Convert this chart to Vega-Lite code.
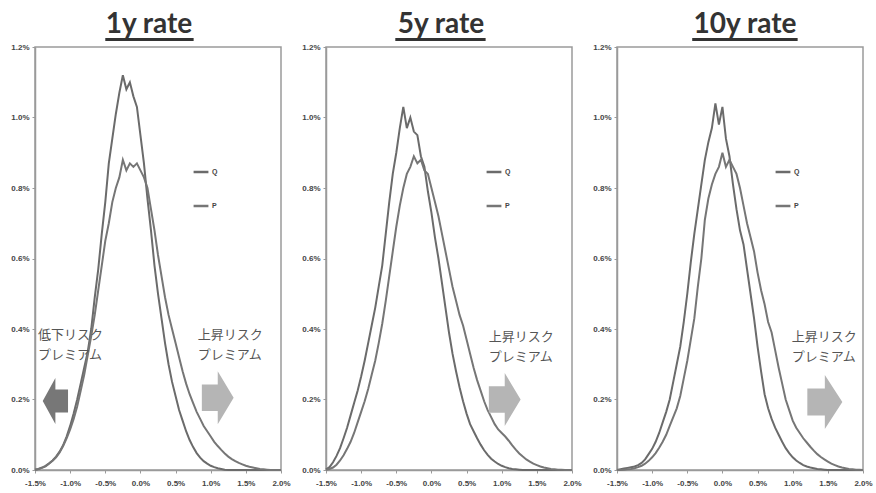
{
  "$schema": "https://vega.github.io/schema/vega-lite/v6.json",
  "background": "white",
  "padding": {"left": 10, "top": 10, "right": 0, "bottom": 0},
  "spacing": 10,
  "config": {
    "font": "Liberation Sans",
    "view": {"stroke": "#9a9a9a", "strokeWidth": 1.5},
    "axis": {"grid": false, "domainColor": "#9a9a9a", "domainWidth": 1.5, "tickColor": "#9a9a9a", "tickSize": 3, "labelFont": "Liberation Sans", "labelFontWeight": "bold", "labelFontSize": 8, "labelColor": "#444444", "labelPadding": 3, "labelOverlap": false, "labelBound": false, "labelFlush": false, "title": null},
    "title": {"font": "Lato", "fontSize": 28, "fontWeight": "bold", "color": "#333333", "anchor": "middle", "baseline": "alphabetic", "offset": -1},
    "legend": {"orient": "none", "symbolType": "stroke", "symbolSize": 220, "symbolStrokeWidth": 2.5, "labelFontSize": 7, "labelFontWeight": "bold", "labelColor": "#444444", "rowPadding": 20, "padding": 0, "labelOffset": 2, "title": null}
  },
  "resolve": {"scale": {"color": "independent"}},
  "datasets": {
    "a": [
      {"s":"Q","x":-1.5,"y":0.001},{"s":"Q","x":-1.45,"y":0.003},{"s":"Q","x":-1.4,"y":0.007},{"s":"Q","x":-1.35,"y":0.012},{"s":"Q","x":-1.3,"y":0.019},{"s":"Q","x":-1.25,"y":0.027},{"s":"Q","x":-1.2,"y":0.038},{"s":"Q","x":-1.15,"y":0.052},{"s":"Q","x":-1.1,"y":0.07},{"s":"Q","x":-1.05,"y":0.095},{"s":"Q","x":-1,"y":0.125},{"s":"Q","x":-0.95,"y":0.16},{"s":"Q","x":-0.9,"y":0.2},{"s":"Q","x":-0.85,"y":0.245},{"s":"Q","x":-0.8,"y":0.29},{"s":"Q","x":-0.75,"y":0.335},{"s":"Q","x":-0.7,"y":0.4},{"s":"Q","x":-0.65,"y":0.49},{"s":"Q","x":-0.6,"y":0.57},{"s":"Q","x":-0.55,"y":0.67},{"s":"Q","x":-0.5,"y":0.76},{"s":"Q","x":-0.45,"y":0.87},{"s":"Q","x":-0.4,"y":0.94},{"s":"Q","x":-0.35,"y":1.01},{"s":"Q","x":-0.3,"y":1.07},{"s":"Q","x":-0.25,"y":1.12},{"s":"Q","x":-0.2,"y":1.08},{"s":"Q","x":-0.15,"y":1.1},{"s":"Q","x":-0.1,"y":1.06},{"s":"Q","x":-0.05,"y":1.03},{"s":"Q","x":0,"y":0.95},{"s":"Q","x":0.05,"y":0.87},{"s":"Q","x":0.1,"y":0.77},{"s":"Q","x":0.15,"y":0.68},{"s":"Q","x":0.2,"y":0.58},{"s":"Q","x":0.25,"y":0.5},{"s":"Q","x":0.3,"y":0.43},{"s":"Q","x":0.35,"y":0.36},{"s":"Q","x":0.4,"y":0.3},{"s":"Q","x":0.45,"y":0.25},{"s":"Q","x":0.5,"y":0.21},{"s":"Q","x":0.55,"y":0.17},{"s":"Q","x":0.6,"y":0.14},{"s":"Q","x":0.65,"y":0.11},{"s":"Q","x":0.7,"y":0.085},{"s":"Q","x":0.75,"y":0.065},{"s":"Q","x":0.8,"y":0.048},{"s":"Q","x":0.85,"y":0.035},{"s":"Q","x":0.9,"y":0.025},{"s":"Q","x":0.95,"y":0.018},{"s":"Q","x":1,"y":0.012},{"s":"Q","x":1.05,"y":0.008},{"s":"Q","x":1.1,"y":0.005},{"s":"Q","x":1.15,"y":0.003},{"s":"Q","x":1.2,"y":0.001},{"s":"Q","x":1.25,"y":0},{"s":"Q","x":2,"y":0},
      {"s":"P","x":-1.5,"y":0.001},{"s":"P","x":-1.45,"y":0.003},{"s":"P","x":-1.4,"y":0.006},{"s":"P","x":-1.35,"y":0.01},{"s":"P","x":-1.3,"y":0.018},{"s":"P","x":-1.25,"y":0.026},{"s":"P","x":-1.2,"y":0.036},{"s":"P","x":-1.15,"y":0.05},{"s":"P","x":-1.1,"y":0.068},{"s":"P","x":-1.05,"y":0.09},{"s":"P","x":-1,"y":0.115},{"s":"P","x":-0.95,"y":0.145},{"s":"P","x":-0.9,"y":0.18},{"s":"P","x":-0.85,"y":0.225},{"s":"P","x":-0.8,"y":0.27},{"s":"P","x":-0.75,"y":0.325},{"s":"P","x":-0.7,"y":0.38},{"s":"P","x":-0.65,"y":0.44},{"s":"P","x":-0.6,"y":0.51},{"s":"P","x":-0.55,"y":0.58},{"s":"P","x":-0.5,"y":0.65},{"s":"P","x":-0.45,"y":0.7},{"s":"P","x":-0.4,"y":0.76},{"s":"P","x":-0.35,"y":0.8},{"s":"P","x":-0.3,"y":0.83},{"s":"P","x":-0.25,"y":0.88},{"s":"P","x":-0.2,"y":0.85},{"s":"P","x":-0.15,"y":0.87},{"s":"P","x":-0.1,"y":0.86},{"s":"P","x":-0.05,"y":0.87},{"s":"P","x":0,"y":0.85},{"s":"P","x":0.05,"y":0.83},{"s":"P","x":0.1,"y":0.8},{"s":"P","x":0.15,"y":0.74},{"s":"P","x":0.2,"y":0.68},{"s":"P","x":0.25,"y":0.61},{"s":"P","x":0.3,"y":0.55},{"s":"P","x":0.35,"y":0.49},{"s":"P","x":0.4,"y":0.44},{"s":"P","x":0.45,"y":0.4},{"s":"P","x":0.5,"y":0.36},{"s":"P","x":0.55,"y":0.32},{"s":"P","x":0.6,"y":0.28},{"s":"P","x":0.65,"y":0.245},{"s":"P","x":0.7,"y":0.215},{"s":"P","x":0.75,"y":0.19},{"s":"P","x":0.8,"y":0.165},{"s":"P","x":0.85,"y":0.145},{"s":"P","x":0.9,"y":0.125},{"s":"P","x":0.95,"y":0.11},{"s":"P","x":1,"y":0.095},{"s":"P","x":1.05,"y":0.08},{"s":"P","x":1.1,"y":0.068},{"s":"P","x":1.15,"y":0.057},{"s":"P","x":1.2,"y":0.047},{"s":"P","x":1.25,"y":0.038},{"s":"P","x":1.3,"y":0.031},{"s":"P","x":1.35,"y":0.025},{"s":"P","x":1.4,"y":0.02},{"s":"P","x":1.45,"y":0.016},{"s":"P","x":1.5,"y":0.012},{"s":"P","x":1.55,"y":0.009},{"s":"P","x":1.6,"y":0.007},{"s":"P","x":1.65,"y":0.005},{"s":"P","x":1.7,"y":0.003},{"s":"P","x":1.75,"y":0.002},{"s":"P","x":1.8,"y":0.001},{"s":"P","x":1.85,"y":0},{"s":"P","x":2,"y":0}
    ],
    "b": [
      {"s":"Q","x":-1.5,"y":0.002},{"s":"Q","x":-1.45,"y":0.008},{"s":"Q","x":-1.4,"y":0.022},{"s":"Q","x":-1.35,"y":0.04},{"s":"Q","x":-1.3,"y":0.062},{"s":"Q","x":-1.25,"y":0.09},{"s":"Q","x":-1.2,"y":0.12},{"s":"Q","x":-1.15,"y":0.155},{"s":"Q","x":-1.1,"y":0.19},{"s":"Q","x":-1.05,"y":0.225},{"s":"Q","x":-1,"y":0.265},{"s":"Q","x":-0.95,"y":0.31},{"s":"Q","x":-0.9,"y":0.36},{"s":"Q","x":-0.85,"y":0.41},{"s":"Q","x":-0.8,"y":0.46},{"s":"Q","x":-0.75,"y":0.52},{"s":"Q","x":-0.7,"y":0.58},{"s":"Q","x":-0.65,"y":0.67},{"s":"Q","x":-0.6,"y":0.76},{"s":"Q","x":-0.55,"y":0.84},{"s":"Q","x":-0.5,"y":0.9},{"s":"Q","x":-0.45,"y":0.97},{"s":"Q","x":-0.4,"y":1.03},{"s":"Q","x":-0.35,"y":0.97},{"s":"Q","x":-0.3,"y":1.0},{"s":"Q","x":-0.25,"y":0.96},{"s":"Q","x":-0.2,"y":0.95},{"s":"Q","x":-0.15,"y":0.89},{"s":"Q","x":-0.1,"y":0.86},{"s":"Q","x":-0.05,"y":0.79},{"s":"Q","x":0,"y":0.73},{"s":"Q","x":0.05,"y":0.66},{"s":"Q","x":0.1,"y":0.6},{"s":"Q","x":0.15,"y":0.53},{"s":"Q","x":0.2,"y":0.46},{"s":"Q","x":0.25,"y":0.39},{"s":"Q","x":0.3,"y":0.33},{"s":"Q","x":0.35,"y":0.28},{"s":"Q","x":0.4,"y":0.235},{"s":"Q","x":0.45,"y":0.195},{"s":"Q","x":0.5,"y":0.16},{"s":"Q","x":0.55,"y":0.13},{"s":"Q","x":0.6,"y":0.11},{"s":"Q","x":0.65,"y":0.09},{"s":"Q","x":0.7,"y":0.072},{"s":"Q","x":0.75,"y":0.056},{"s":"Q","x":0.8,"y":0.043},{"s":"Q","x":0.85,"y":0.032},{"s":"Q","x":0.9,"y":0.024},{"s":"Q","x":0.95,"y":0.017},{"s":"Q","x":1,"y":0.012},{"s":"Q","x":1.05,"y":0.008},{"s":"Q","x":1.1,"y":0.005},{"s":"Q","x":1.15,"y":0.003},{"s":"Q","x":1.2,"y":0.002},{"s":"Q","x":1.25,"y":0.001},{"s":"Q","x":1.3,"y":0},{"s":"Q","x":2,"y":0},
      {"s":"P","x":-1.5,"y":0.001},{"s":"P","x":-1.45,"y":0.003},{"s":"P","x":-1.4,"y":0.007},{"s":"P","x":-1.35,"y":0.015},{"s":"P","x":-1.3,"y":0.027},{"s":"P","x":-1.25,"y":0.042},{"s":"P","x":-1.2,"y":0.06},{"s":"P","x":-1.15,"y":0.08},{"s":"P","x":-1.1,"y":0.105},{"s":"P","x":-1.05,"y":0.135},{"s":"P","x":-1,"y":0.165},{"s":"P","x":-0.95,"y":0.195},{"s":"P","x":-0.9,"y":0.23},{"s":"P","x":-0.85,"y":0.27},{"s":"P","x":-0.8,"y":0.31},{"s":"P","x":-0.75,"y":0.36},{"s":"P","x":-0.7,"y":0.415},{"s":"P","x":-0.65,"y":0.48},{"s":"P","x":-0.6,"y":0.55},{"s":"P","x":-0.55,"y":0.62},{"s":"P","x":-0.5,"y":0.69},{"s":"P","x":-0.45,"y":0.75},{"s":"P","x":-0.4,"y":0.8},{"s":"P","x":-0.35,"y":0.84},{"s":"P","x":-0.3,"y":0.86},{"s":"P","x":-0.25,"y":0.89},{"s":"P","x":-0.2,"y":0.87},{"s":"P","x":-0.15,"y":0.88},{"s":"P","x":-0.1,"y":0.85},{"s":"P","x":-0.05,"y":0.84},{"s":"P","x":0,"y":0.8},{"s":"P","x":0.05,"y":0.76},{"s":"P","x":0.1,"y":0.72},{"s":"P","x":0.15,"y":0.67},{"s":"P","x":0.2,"y":0.62},{"s":"P","x":0.25,"y":0.57},{"s":"P","x":0.3,"y":0.52},{"s":"P","x":0.35,"y":0.48},{"s":"P","x":0.4,"y":0.44},{"s":"P","x":0.45,"y":0.41},{"s":"P","x":0.5,"y":0.37},{"s":"P","x":0.55,"y":0.33},{"s":"P","x":0.6,"y":0.29},{"s":"P","x":0.65,"y":0.255},{"s":"P","x":0.7,"y":0.225},{"s":"P","x":0.75,"y":0.195},{"s":"P","x":0.8,"y":0.17},{"s":"P","x":0.85,"y":0.15},{"s":"P","x":0.9,"y":0.13},{"s":"P","x":0.95,"y":0.115},{"s":"P","x":1,"y":0.105},{"s":"P","x":1.05,"y":0.095},{"s":"P","x":1.1,"y":0.083},{"s":"P","x":1.15,"y":0.07},{"s":"P","x":1.2,"y":0.058},{"s":"P","x":1.25,"y":0.047},{"s":"P","x":1.3,"y":0.038},{"s":"P","x":1.35,"y":0.03},{"s":"P","x":1.4,"y":0.024},{"s":"P","x":1.45,"y":0.018},{"s":"P","x":1.5,"y":0.014},{"s":"P","x":1.55,"y":0.01},{"s":"P","x":1.6,"y":0.007},{"s":"P","x":1.65,"y":0.005},{"s":"P","x":1.7,"y":0.003},{"s":"P","x":1.75,"y":0.002},{"s":"P","x":1.8,"y":0.001},{"s":"P","x":1.85,"y":0.001},{"s":"P","x":1.9,"y":0},{"s":"P","x":2,"y":0}
    ],
    "c": [
      {"s":"Q","x":-1.5,"y":0},{"s":"Q","x":-1.45,"y":0.002},{"s":"Q","x":-1.4,"y":0.004},{"s":"Q","x":-1.35,"y":0.006},{"s":"Q","x":-1.3,"y":0.008},{"s":"Q","x":-1.25,"y":0.01},{"s":"Q","x":-1.2,"y":0.014},{"s":"Q","x":-1.15,"y":0.02},{"s":"Q","x":-1.1,"y":0.03},{"s":"Q","x":-1.05,"y":0.045},{"s":"Q","x":-1,"y":0.06},{"s":"Q","x":-0.95,"y":0.08},{"s":"Q","x":-0.9,"y":0.105},{"s":"Q","x":-0.85,"y":0.135},{"s":"Q","x":-0.8,"y":0.165},{"s":"Q","x":-0.75,"y":0.2},{"s":"Q","x":-0.7,"y":0.25},{"s":"Q","x":-0.65,"y":0.3},{"s":"Q","x":-0.6,"y":0.35},{"s":"Q","x":-0.55,"y":0.42},{"s":"Q","x":-0.5,"y":0.5},{"s":"Q","x":-0.45,"y":0.59},{"s":"Q","x":-0.4,"y":0.67},{"s":"Q","x":-0.35,"y":0.74},{"s":"Q","x":-0.3,"y":0.81},{"s":"Q","x":-0.25,"y":0.88},{"s":"Q","x":-0.2,"y":0.93},{"s":"Q","x":-0.15,"y":0.97},{"s":"Q","x":-0.1,"y":1.04},{"s":"Q","x":-0.05,"y":0.98},{"s":"Q","x":0,"y":1.03},{"s":"Q","x":0.05,"y":0.94},{"s":"Q","x":0.1,"y":0.89},{"s":"Q","x":0.15,"y":0.81},{"s":"Q","x":0.2,"y":0.74},{"s":"Q","x":0.25,"y":0.68},{"s":"Q","x":0.3,"y":0.64},{"s":"Q","x":0.35,"y":0.57},{"s":"Q","x":0.4,"y":0.5},{"s":"Q","x":0.45,"y":0.43},{"s":"Q","x":0.5,"y":0.35},{"s":"Q","x":0.55,"y":0.28},{"s":"Q","x":0.6,"y":0.215},{"s":"Q","x":0.65,"y":0.175},{"s":"Q","x":0.7,"y":0.145},{"s":"Q","x":0.75,"y":0.12},{"s":"Q","x":0.8,"y":0.1},{"s":"Q","x":0.85,"y":0.08},{"s":"Q","x":0.9,"y":0.062},{"s":"Q","x":0.95,"y":0.048},{"s":"Q","x":1,"y":0.036},{"s":"Q","x":1.05,"y":0.027},{"s":"Q","x":1.1,"y":0.02},{"s":"Q","x":1.15,"y":0.014},{"s":"Q","x":1.2,"y":0.01},{"s":"Q","x":1.25,"y":0.007},{"s":"Q","x":1.3,"y":0.005},{"s":"Q","x":1.35,"y":0.003},{"s":"Q","x":1.4,"y":0.002},{"s":"Q","x":1.45,"y":0.001},{"s":"Q","x":1.5,"y":0},{"s":"Q","x":2,"y":0},
      {"s":"P","x":-1.5,"y":0},{"s":"P","x":-1.45,"y":0},{"s":"P","x":-1.4,"y":0.001},{"s":"P","x":-1.35,"y":0.002},{"s":"P","x":-1.3,"y":0.003},{"s":"P","x":-1.25,"y":0.005},{"s":"P","x":-1.2,"y":0.008},{"s":"P","x":-1.15,"y":0.012},{"s":"P","x":-1.1,"y":0.018},{"s":"P","x":-1.05,"y":0.026},{"s":"P","x":-1,"y":0.036},{"s":"P","x":-0.95,"y":0.048},{"s":"P","x":-0.9,"y":0.063},{"s":"P","x":-0.85,"y":0.08},{"s":"P","x":-0.8,"y":0.1},{"s":"P","x":-0.75,"y":0.125},{"s":"P","x":-0.7,"y":0.15},{"s":"P","x":-0.65,"y":0.175},{"s":"P","x":-0.6,"y":0.21},{"s":"P","x":-0.55,"y":0.26},{"s":"P","x":-0.5,"y":0.31},{"s":"P","x":-0.45,"y":0.37},{"s":"P","x":-0.4,"y":0.43},{"s":"P","x":-0.35,"y":0.52},{"s":"P","x":-0.3,"y":0.6},{"s":"P","x":-0.25,"y":0.71},{"s":"P","x":-0.2,"y":0.77},{"s":"P","x":-0.15,"y":0.81},{"s":"P","x":-0.1,"y":0.84},{"s":"P","x":-0.05,"y":0.86},{"s":"P","x":0,"y":0.9},{"s":"P","x":0.05,"y":0.86},{"s":"P","x":0.1,"y":0.88},{"s":"P","x":0.15,"y":0.86},{"s":"P","x":0.2,"y":0.84},{"s":"P","x":0.25,"y":0.8},{"s":"P","x":0.3,"y":0.75},{"s":"P","x":0.35,"y":0.7},{"s":"P","x":0.4,"y":0.66},{"s":"P","x":0.45,"y":0.62},{"s":"P","x":0.5,"y":0.56},{"s":"P","x":0.55,"y":0.51},{"s":"P","x":0.6,"y":0.47},{"s":"P","x":0.65,"y":0.42},{"s":"P","x":0.7,"y":0.39},{"s":"P","x":0.75,"y":0.34},{"s":"P","x":0.8,"y":0.29},{"s":"P","x":0.85,"y":0.245},{"s":"P","x":0.9,"y":0.2},{"s":"P","x":0.95,"y":0.17},{"s":"P","x":1,"y":0.14},{"s":"P","x":1.05,"y":0.12},{"s":"P","x":1.1,"y":0.105},{"s":"P","x":1.15,"y":0.09},{"s":"P","x":1.2,"y":0.078},{"s":"P","x":1.25,"y":0.066},{"s":"P","x":1.3,"y":0.055},{"s":"P","x":1.35,"y":0.045},{"s":"P","x":1.4,"y":0.037},{"s":"P","x":1.45,"y":0.03},{"s":"P","x":1.5,"y":0.024},{"s":"P","x":1.55,"y":0.018},{"s":"P","x":1.6,"y":0.014},{"s":"P","x":1.65,"y":0.01},{"s":"P","x":1.7,"y":0.007},{"s":"P","x":1.75,"y":0.005},{"s":"P","x":1.8,"y":0.003},{"s":"P","x":1.85,"y":0.002},{"s":"P","x":1.9,"y":0.001},{"s":"P","x":1.95,"y":0.001},{"s":"P","x":2,"y":0}
    ]
  },
  "hconcat": [
    {
      "width": 246, "height": 423,
      "title": {"text": "1y rate", "dx": -9},
      "layer": [
        {
          "data": {"name": "a"},
          "mark": {"type": "line", "strokeWidth": 2},
          "encoding": {
            "x": {"field": "x", "type": "quantitative", "scale": {"domain": [-1.5, 2], "nice": false}, "axis": {"values": [-1.5,-1,-0.5,0,0.5,1,1.5,2], "tickCount": 20, "labelOverlap": false, "labelPadding": 6, "labelExpr": "(datum.value < 0 ? '-' : '') + format(abs(datum.value), '.1f') + '%'"}},
            "y": {"field": "y", "type": "quantitative", "scale": {"domain": [0, 1.2], "nice": false}, "axis": {"values": [0,0.2,0.4,0.6,0.8,1,1.2], "tickCount": 20, "labelOverlap": false, "labelExpr": "format(datum.value, '.1f') + '%'"}},
            "color": {"field": "s", "type": "nominal", "scale": {"domain": ["Q","P"], "range": ["#6b6b6b","#767676"]}, "legend": {"legendX": 157, "legendY": 116}}
          }
        },
        {
          "data": {"values": [{}]},
          "mark": {"type": "rule", "strokeWidth": 3, "color": "#333333"},
          "encoding": {"x": {"datum": -0.5}, "x2": {"datum": 0.757}, "y": {"datum": 1.2216}}
        },
        {
          "data": {"values": [{}]},
          "mark": {"type": "text", "text": "低下リスク\nプレミアム", "lineBreak": "\n", "lineHeight": 20, "font": "Noto Sans CJK JP", "fontSize": 13, "color": "#555555", "align": "left", "baseline": "top"},
          "encoding": {"x": {"datum": -1.457}, "y": {"datum": 0.4}}
        },
        {
          "data": {"values": [{}]},
          "mark": {"type": "text", "text": "上昇リスク\nプレミアム", "lineBreak": "\n", "lineHeight": 20, "font": "Noto Sans CJK JP", "fontSize": 13, "color": "#555555", "align": "left", "baseline": "top"},
          "encoding": {"x": {"datum": 0.814}, "y": {"datum": 0.4}}
        },
        {
          "data": {"values": [{}]},
          "mark": {"type": "point", "filled": true, "opacity": 1, "color": "#777777", "size": 2116, "shape": "M0.55,-0.5L0,-0.5L0,-1L-0.55,0L0,1L0,0.5L0.55,0.5Z"},
          "encoding": {"x": {"datum": -1.21}, "y": {"datum": 0.196}}
        },
        {
          "data": {"values": [{}]},
          "mark": {"type": "point", "filled": true, "opacity": 1, "color": "#b5b5b5", "size": 2809, "shape": "M-0.6,-0.5L0,-0.5L0,-1L0.6,0L0,1L0,0.5L-0.6,0.5Z"},
          "encoding": {"x": {"datum": 1.1}, "y": {"datum": 0.205}}
        }
      ]
    },
    {
      "width": 246, "height": 423,
      "title": {"text": "5y rate", "dx": -8},
      "layer": [
        {
          "data": {"name": "b"},
          "mark": {"type": "line", "strokeWidth": 2},
          "encoding": {
            "x": {"field": "x", "type": "quantitative", "scale": {"domain": [-1.5, 2], "nice": false}, "axis": {"values": [-1.5,-1,-0.5,0,0.5,1,1.5,2], "tickCount": 20, "labelOverlap": false, "labelPadding": 6, "labelExpr": "(datum.value < 0 ? '-' : '') + format(abs(datum.value), '.1f') + '%'"}},
            "y": {"field": "y", "type": "quantitative", "scale": {"domain": [0, 1.2], "nice": false}, "axis": {"values": [0,0.2,0.4,0.6,0.8,1,1.2], "tickCount": 20, "labelOverlap": false, "labelExpr": "format(datum.value, '.1f') + '%'"}},
            "color": {"field": "s", "type": "nominal", "scale": {"domain": ["Q","P"], "range": ["#6b6b6b","#767676"]}, "legend": {"legendX": 159, "legendY": 116}}
          }
        },
        {
          "data": {"values": [{}]},
          "mark": {"type": "rule", "strokeWidth": 3, "color": "#333333"},
          "encoding": {"x": {"datum": -0.514}, "x2": {"datum": 0.771}, "y": {"datum": 1.2216}}
        },
        {
          "data": {"values": [{}]},
          "mark": {"type": "text", "text": "上昇リスク\nプレミアム", "lineBreak": "\n", "lineHeight": 20, "font": "Noto Sans CJK JP", "fontSize": 13, "color": "#555555", "align": "left", "baseline": "top"},
          "encoding": {"x": {"datum": 0.814}, "y": {"datum": 0.395}}
        },
        {
          "data": {"values": [{}]},
          "mark": {"type": "point", "filled": true, "opacity": 1, "color": "#b5b5b5", "size": 2809, "shape": "M-0.6,-0.5L0,-0.5L0,-1L0.6,0L0,1L0,0.5L-0.6,0.5Z"},
          "encoding": {"x": {"datum": 1.043}, "y": {"datum": 0.2}}
        }
      ]
    },
    {
      "width": 246, "height": 423,
      "title": {"text": "10y rate", "dx": 5},
      "layer": [
        {
          "data": {"name": "c"},
          "mark": {"type": "line", "strokeWidth": 2},
          "encoding": {
            "x": {"field": "x", "type": "quantitative", "scale": {"domain": [-1.5, 2], "nice": false}, "axis": {"values": [-1.5,-1,-0.5,0,0.5,1,1.5,2], "tickCount": 20, "labelOverlap": false, "labelPadding": 6, "labelExpr": "(datum.value < 0 ? '-' : '') + format(abs(datum.value), '.1f') + '%'"}},
            "y": {"field": "y", "type": "quantitative", "scale": {"domain": [0, 1.2], "nice": false}, "axis": {"values": [0,0.2,0.4,0.6,0.8,1,1.2], "tickCount": 20, "labelOverlap": false, "labelExpr": "format(datum.value, '.1f') + '%'"}},
            "color": {"field": "s", "type": "nominal", "scale": {"domain": ["Q","P"], "range": ["#6b6b6b","#767676"]}, "legend": {"legendX": 157, "legendY": 116}}
          }
        },
        {
          "data": {"values": [{}]},
          "mark": {"type": "rule", "strokeWidth": 3, "color": "#333333"},
          "encoding": {"x": {"datum": -0.43}, "x2": {"datum": 1.07}, "y": {"datum": 1.2216}}
        },
        {
          "data": {"values": [{}]},
          "mark": {"type": "text", "text": "上昇リスク\nプレミアム", "lineBreak": "\n", "lineHeight": 20, "font": "Noto Sans CJK JP", "fontSize": 13, "color": "#555555", "align": "left", "baseline": "top"},
          "encoding": {"x": {"datum": 0.986}, "y": {"datum": 0.395}}
        },
        {
          "data": {"values": [{}]},
          "mark": {"type": "point", "filled": true, "opacity": 1, "color": "#b5b5b5", "size": 2900, "shape": "M-0.65,-0.5L0,-0.5L0,-1L0.65,0L0,1L0,0.5L-0.65,0.5Z"},
          "encoding": {"x": {"datum": 1.457}, "y": {"datum": 0.193}}
        }
      ]
    }
  ]
}
